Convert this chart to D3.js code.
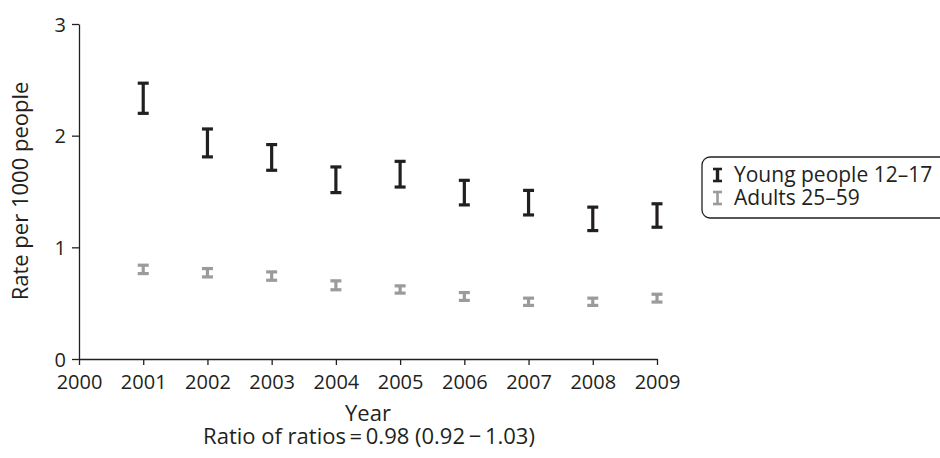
<!DOCTYPE html>
<html>
<head>
<meta charset="utf-8">
<script src="https://cdn.jsdelivr.net/npm/d3@7"></script>
<style>
  html, body { margin: 0; padding: 0; background: #fff; }
  svg { display: block; font-family: "Open Sans", "Noto Sans", sans-serif; }
</style>
</head>
<body>
<svg id="chart" width="940" height="458"></svg>
<script>
// Rates per 1000 people with 95% confidence limits, by year
const years = [2001, 2002, 2003, 2004, 2005, 2006, 2007, 2008, 2009];
const youngLower = [2.20, 1.81, 1.69, 1.49, 1.54, 1.38, 1.29, 1.15, 1.18];
const youngUpper = [2.47, 2.06, 1.92, 1.72, 1.77, 1.60, 1.51, 1.36, 1.39];
const adultLower = [0.765, 0.735, 0.705, 0.62, 0.59, 0.525, 0.48, 0.48, 0.51];
const adultUpper = [0.84, 0.81, 0.78, 0.70, 0.655, 0.595, 0.545, 0.545, 0.58];
const xTicks = [2000, 2001, 2002, 2003, 2004, 2005, 2006, 2007, 2008, 2009];
const yTicks = [0, 1, 2, 3];
const seriesNames = ["Young people 12\u201317", "Adults 25\u201359"];
const seriesColors = ["#231f20", "#9b9b9b"];

const svg = d3.select("#chart");
const x = d3.scaleLinear().domain([2000, 2009]).range([79, 657]);
const y = d3.scaleLinear().domain([0, 3]).range([359, 24]);

const ink = "#231f20";

// Axes
const xAxis = svg.append("g")
  .attr("transform", `translate(0,${y(0)})`)
  .call(d3.axisBottom(x).tickValues(xTicks).tickFormat(d3.format("d")).tickSize(6).tickSizeOuter(0));
const yAxis = svg.append("g")
  .attr("transform", `translate(${x(2000)},0)`)
  .call(d3.axisLeft(y).tickValues(yTicks).tickFormat(d3.format("d")).tickSize(7).tickSizeOuter(0));

[xAxis, yAxis].forEach(g => {
  g.select(".domain").attr("stroke", ink).attr("stroke-width", 1.3);
  g.selectAll(".tick line").attr("stroke", ink).attr("stroke-width", 1.3);
  g.selectAll(".tick text")
    .attr("fill", ink)
    .style("font-family", "'Open Sans', sans-serif")
    .style("font-size", "20px");
});
xAxis.selectAll(".tick text").attr("dy", null).attr("y", 30);
yAxis.selectAll(".tick text").attr("x", -13).attr("dy", "0.36em");

// Error bars
function drawBars(lower, upper, color, capW, sw) {
  const g = svg.append("g").attr("stroke", color).attr("stroke-width", sw).attr("fill", "none");
  years.forEach((yr, i) => {
    const cx = x(yr), y0 = y(lower[i]), y1 = y(upper[i]);
    g.append("line").attr("x1", cx).attr("x2", cx).attr("y1", y0).attr("y2", y1);
    g.append("line").attr("x1", cx - capW / 2).attr("x2", cx + capW / 2).attr("y1", y0).attr("y2", y0);
    g.append("line").attr("x1", cx - capW / 2).attr("x2", cx + capW / 2).attr("y1", y1).attr("y2", y1);
  });
}
drawBars(youngLower, youngUpper, seriesColors[0], 11, 3.2);
drawBars(adultLower, adultUpper, seriesColors[1], 11, 3.2);

// Axis titles
svg.append("text")
  .attr("x", 368).attr("y", 421)
  .attr("text-anchor", "middle")
  .attr("fill", ink)
  .style("font-size", "22px")
  .text("Year");
svg.append("text")
  .attr("x", 369).attr("y", 444)
  .attr("text-anchor", "middle")
  .attr("fill", ink)
  .style("font-size", "22px")
  .text("Ratio of ratios\u2009=\u20090.98 (0.92\u2009\u2212\u20091.03)");
svg.append("text")
  .attr("transform", "translate(28,191) rotate(-90)")
  .attr("text-anchor", "middle")
  .attr("fill", ink)
  .style("font-size", "22px")
  .text("Rate per 1000 people");

// Legend
const legend = svg.append("g");
legend.append("rect")
  .attr("x", 702).attr("y", 157).attr("width", 270).attr("height", 61)
  .attr("rx", 8).attr("ry", 8)
  .attr("fill", "#fff").attr("stroke", ink).attr("stroke-width", 1.3);
seriesNames.forEach((name, i) => {
  const base = 182 + i * 23;
  const top = base - 13, bot = base - 1;
  const lg = legend.append("g").attr("stroke", seriesColors[i]);
  lg.append("line").attr("x1", 717.5).attr("x2", 717.5).attr("y1", top).attr("y2", bot)
    .attr("stroke-width", i === 0 ? 3.4 : 2.6);
  lg.append("line").attr("x1", 713).attr("x2", 722).attr("y1", top).attr("y2", top).attr("stroke-width", 2.6);
  lg.append("line").attr("x1", 713).attr("x2", 722).attr("y1", bot).attr("y2", bot).attr("stroke-width", 2.6);
  legend.append("text")
    .attr("x", 734).attr("y", base)
    .attr("fill", ink)
    .style("font-size", "21px")
    .text(name);
});
</script>
</body>
</html>
